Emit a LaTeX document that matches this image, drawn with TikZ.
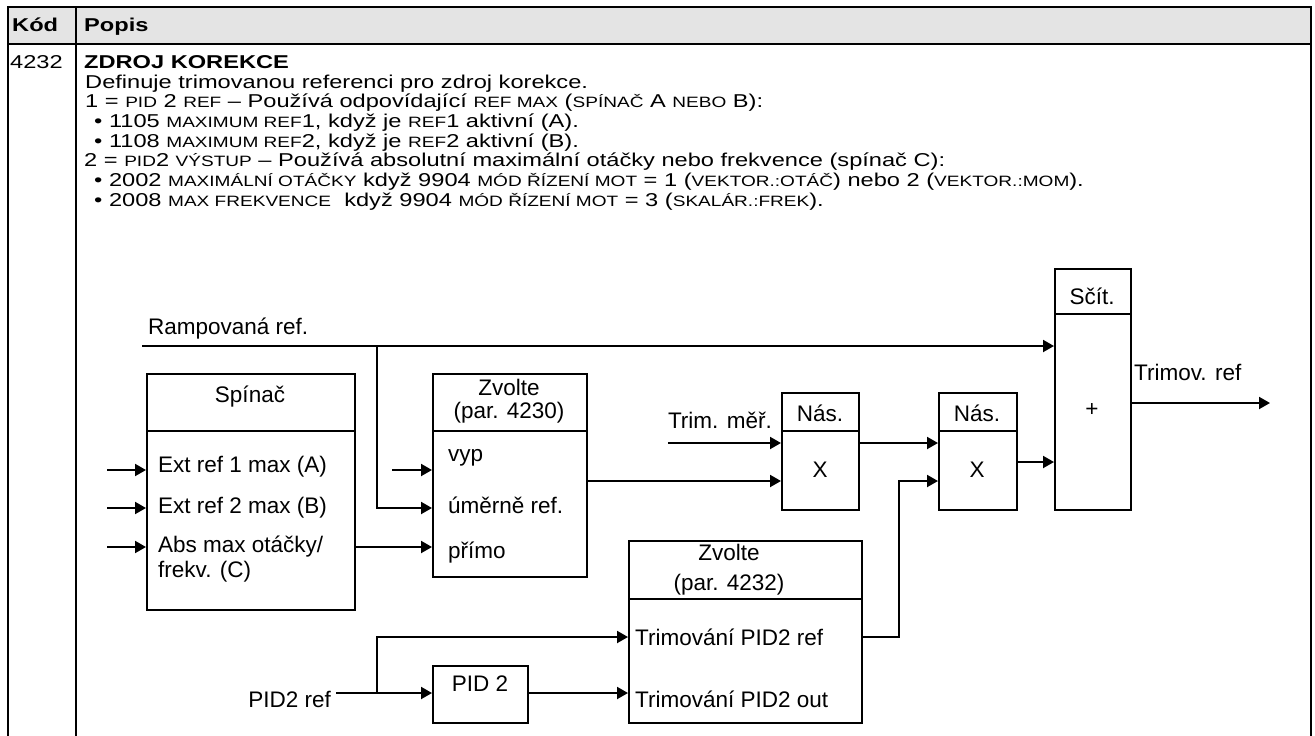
\documentclass[tikz,border=0pt]{standalone}
\usepackage{fontspec}
\setmainfont{Liberation Sans}
\newfontfamily\topfont{Liberation Sans}[FakeStretch=1.27]
\usetikzlibrary{arrows.meta}
\definecolor{hdr}{HTML}{E4E4E4}
\newcommand{\smc}[1]{{\fontsize{15}{16}\selectfont #1}}
\begin{document}
\begin{tikzpicture}[x=1pt,y=-1pt,
  font=\fontsize{22.5}{26}\selectfont,
  tline/.style={line width=2.5pt},
  ln/.style={line width=2pt},
  arr/.style={line width=2pt,-{Triangle[length=11pt,width=12pt]}},
  blk/.style={draw,line width=2pt,anchor=north west,inner sep=0pt},
  txt/.style={anchor=base west,inner sep=0pt,font=\topfont\fontsize{18.6}{20}\selectfont},
  btxt/.style={anchor=base west,inner sep=0pt,font=\topfont\fontsize{18.6}{20}\selectfont\bfseries},
  lbl/.style={inner sep=0pt},
  lbw/.style={inner sep=0pt,anchor=west}]
\useasboundingbox (0,0) rectangle (1315,736);
\fill[white] (0,0) rectangle (1315,736);
% table
\fill[hdr] (8,7) rectangle (1311,44);
\draw[tline] (8,736) -- (8,7) -- (1311,7) -- (1311,736);
\draw[tline] (76,7) -- (76,736);
\draw[tline] (8,44) -- (1311,44);
\node[btxt] (hk) at (12,31) {Kód};
\node[btxt] (hp) at (84,31) {Popis};
\node[txt] (code) at (10,68) {4232};
\node[btxt] (title) at (84,68) {ZDROJ KOREKCE};
\node[txt] (l1) at (85,88) {Definuje trimovanou referenci pro zdroj korekce.};
\node[txt] (l2) at (85,107) {1 = \smc{PID} 2 \smc{REF} – Používá odpovídající \smc{REF MAX} (\smc{SPÍNAČ} A \smc{NEBO} B):};
\node[txt] (l3) at (94,127) {• 1105 \smc{MAXIMUM REF}1, když je \smc{REF}1 aktivní (A).};
\node[txt] (l4) at (94,147) {• 1108 \smc{MAXIMUM REF}2, když je \smc{REF}2 aktivní (B).};
\node[txt] (l5) at (84,166) {2 = \smc{PID}2 \smc{VÝSTUP} – Používá absolutní maximální otáčky nebo frekvence (spínač C):};
\node[txt] (l6) at (94,186) {• 2002 \smc{MAXIMÁLNÍ OTÁČKY} když 9904 \smc{MÓD ŘÍZENÍ MOT} = 1 (\smc{VEKTOR.:OTÁČ}) nebo 2 (\smc{VEKTOR.:MOM}).};
\node[txt] (l7) at (94,206) {• 2008 \smc{MAX FREKVENCE}\ \ když 9904 \smc{MÓD ŘÍZENÍ MOT} = 3 (\smc{SKALÁR.:FREK}).};
% boxes
\node[blk,minimum width=208pt,minimum height=236pt] (sp) at (146,373) {};
\node[blk,minimum width=154pt,minimum height=203pt] (z1) at (432,373) {};
\node[blk,minimum width=77pt,minimum height=117pt] (n1) at (781,392) {};
\node[blk,minimum width=78pt,minimum height=117pt] (n2) at (938,392) {};
\node[blk,minimum width=76pt,minimum height=241pt] (sum) at (1054,268) {};
\node[blk,minimum width=233pt,minimum height=182pt] (z2) at (628,540) {};
\node[blk,minimum width=95pt,minimum height=57pt] (pid) at (432,665) {};
% dividers
\coordinate (d1) at (0,431);
\coordinate (d2) at (0,314);
\coordinate (d3) at (0,599);
\draw[ln] (sp.west |- d1) -- (sp.east |- d1);
\draw[ln] (z1.west |- d1) -- (z1.east |- d1);
\draw[ln] (n1.west |- d1) -- (n1.east |- d1);
\draw[ln] (n2.west |- d1) -- (n2.east |- d1);
\draw[ln] (sum.west |- d2) -- (sum.east |- d2);
\draw[ln] (z2.west |- d3) -- (z2.east |- d3);
% labels
\node[lbw] (tramp) at (148,329) {Rampovaná ref.};
\node[lbl] (tsp) at (250,397) {Spínač};
\node[lbw] (ta) at (158,467) {Ext ref 1 max (A)};
\node[lbw] (tb) at (158,508) {Ext ref 2 max (B)};
\node[lbw] (tc1) at (158,547) {Abs max otáčky/};
\node[lbw] (tc2) at (158,572) {frekv. (C)};
\node[lbl] (tz1a) at (509,387) {Zvolte};
\node[lbl] (tz1b) at (509,413) {(par. 4230)};
\node[lbw] (tvyp) at (448,458) {vyp};
\node[lbw] (tum) at (448,505) {úměrně ref.};
\node[lbw] (tpr) at (448,553) {přímo};
\node[lbl,anchor=east] (ttm) at (772,420) {Trim. měř.};
\node[lbl] (tn1) at (820,413) {Nás.};
\node[lbl] (tn2) at (977,413) {Nás.};
\node[lbl] (tx1) at (820,470) {X};
\node[lbl] (tx2) at (977,470) {X};
\node[lbl] (tsum) at (1092,296) {Sčít.};
\node[lbl] (tplus) at (1092,410) {+};
\node[lbw] (tout) at (1134,372) {Trimov. ref};
\node[lbl] (tz2a) at (729,552) {Zvolte};
\node[lbl] (tz2b) at (729,585) {(par. 4232)};
\node[lbw] (tpr1) at (635,637) {Trimování PID2 ref};
\node[lbw] (tpr2) at (635,699) {Trimování PID2 out};
\node[lbl] (tpid) at (480,684) {PID 2};
\node[lbl,anchor=east,inner xsep=5pt] (tpref) at (336,699) {PID2 ref};
% connectors
\coordinate (inA) at (107,470);
\coordinate (inB) at (107,508);
\coordinate (inC) at (107,547);
\coordinate (inV) at (392,470);
\coordinate (rs) at (142,346);
\coordinate (br) at (377,346);
\coordinate (yU) at (0,508);
\coordinate (yX) at (0,481);
\coordinate (yT) at (0,443);
\coordinate (yS) at (0,462);
\coordinate (yO) at (0,403);
\coordinate (yR) at (0,637);
\coordinate (yP) at (0,693);
\coordinate (vx) at (899,0);
\coordinate (pb) at (377,693);
\coordinate (outE) at (1270,403);
\draw[arr] (inA) -- (inA -| sp.west);
\draw[arr] (inB) -- (inB -| sp.west);
\draw[arr] (inC) -- (inC -| sp.west);
\draw[arr] (sp.east |- inC) -- (z1.west |- inC);
\draw[arr] (inV) -- (inV -| z1.west);
\draw[arr] (rs) -- (rs -| sum.west);
\draw[arr] (br) -- (br |- yU) -- (z1.west |- yU);
\draw[arr] (z1.east |- yX) -- (n1.west |- yX);
\draw[arr] (ttm.west |- yT) -- (n1.west |- yT);
\draw[arr] (n1.east |- yT) -- (n2.west |- yT);
\draw[arr] (n2.east |- yS) -- (sum.west |- yS);
\draw[arr] (sum.east |- yO) -- (outE);
\draw[arr] (z2.east |- yR) -- (vx |- yR) -- (vx |- yX) -- (n2.west |- yX);
\draw[ln] (tpref.east |- yP) -- (pb);
\draw[arr] (pb) -- (pid.west |- yP);
\draw[arr] (pb) -- (pb |- yR) -- (z2.west |- yR);
\draw[arr] (pid.east |- yP) -- (z2.west |- yP);
\end{tikzpicture}
\end{document}
